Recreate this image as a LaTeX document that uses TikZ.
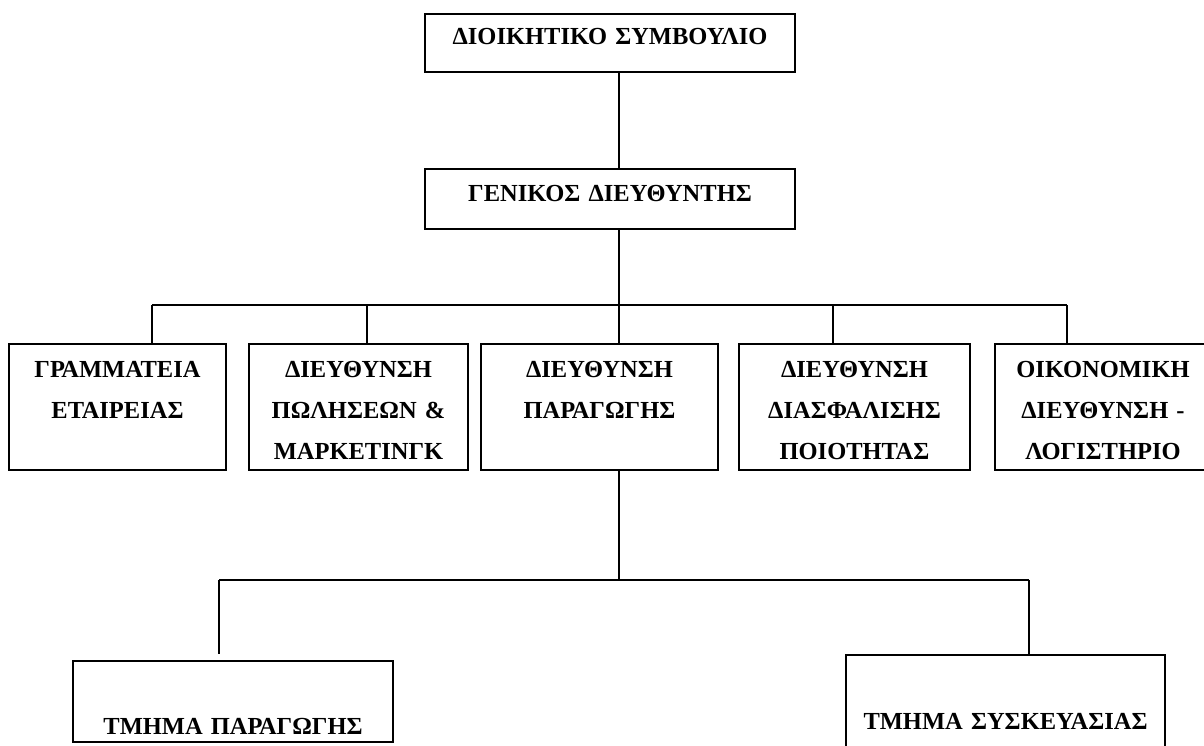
\documentclass[tikz,border=0pt]{standalone}
\usepackage{fontspec}
\setmainfont{Liberation Serif}
\begin{document}
\begin{tikzpicture}[x=1pt,y=-1pt,
		unit/.style={draw,line width=2pt,inner sep=0pt,anchor=north west,align=center,font=\fontsize{24.5}{41}\selectfont\bfseries},
		link/.style={line width=1.5pt}]
				\useasboundingbox (0,0) rectangle (1204,745); \clip (0,0) rectangle (1204,745);
				\node[unit,text width=370pt,text height=30pt,text depth=28pt] (board) at (424,13) {ΔΙΟΙΚΗΤΙΚΟ ΣΥΜΒΟΥΛΙΟ};
				\node[unit,text width=370pt,text height=32pt,text depth=28pt] (gm) at (424,168) {ΓΕΝΙΚΟΣ ΔΙΕΥΘΥΝΤΗΣ};
				\foreach\n/\x/\w/\t in {sec/8/217/{ΓΡΑΜΜΑΤΕΙΑ\\ΕΤΑΙΡΕΙΑΣ},sales/248/219/{ΔΙΕΥΘΥΝΣΗ\\ΠΩΛΗΣΕΩΝ \&\\ΜΑΡΚΕΤΙΝΓΚ},
					prod/480/237/{ΔΙΕΥΘΥΝΣΗ\\ΠΑΡΑΓΩΓΗΣ},qa/738/231/{ΔΙΕΥΘΥΝΣΗ\\ΔΙΑΣΦΑΛΙΣΗΣ\\ΠΟΙΟΤΗΤΑΣ},fin/994/216/{ΟΙΚΟΝΟΜΙΚΗ\\ΔΙΕΥΘΥΝΣΗ -\\ΛΟΓΙΣΤΗΡΙΟ}}
					\node[unit,text width=\w pt,text height=33pt,text depth=93pt] (\n) at (\x,343) {\t};
				\node[unit,text width=320pt,text height=73pt,text depth=8pt] (plant) at (72,660) {ΤΜΗΜΑ ΠΑΡΑΓΩΓΗΣ};
				\node[unit,text width=319pt,text height=74pt,text depth=30pt] (pack) at (845,654) {ΤΜΗΜΑ ΣΥΣΚΕΥΑΣΙΑΣ};
				\coordinate (top) at (619,305); \coordinate (mid) at (619,580);
				\coordinate (dleft) at (219,580); \coordinate (dright) at (1029,580);
				\foreach\n/\x in {sec/152,sales/367,prod/619,qa/833,fin/1067}\coordinate (d\n) at (\x,305);
				\draw[link] (board.south -| top)--(gm.north -| top) (gm.south -| top)--(top) (dsec)--(dfin);
				\foreach\n in {sec,sales,prod,qa,fin}\draw[link] (d\n)--(\n.north -| d\n);
				\draw[link] (prod.south -| mid)--(mid) (dleft)--(dright) (dright)--(pack.north -| dright);
				\draw[link,shorten >=6pt] (dleft)--(plant.north -| dleft);
			\end{tikzpicture}
\end{document}
